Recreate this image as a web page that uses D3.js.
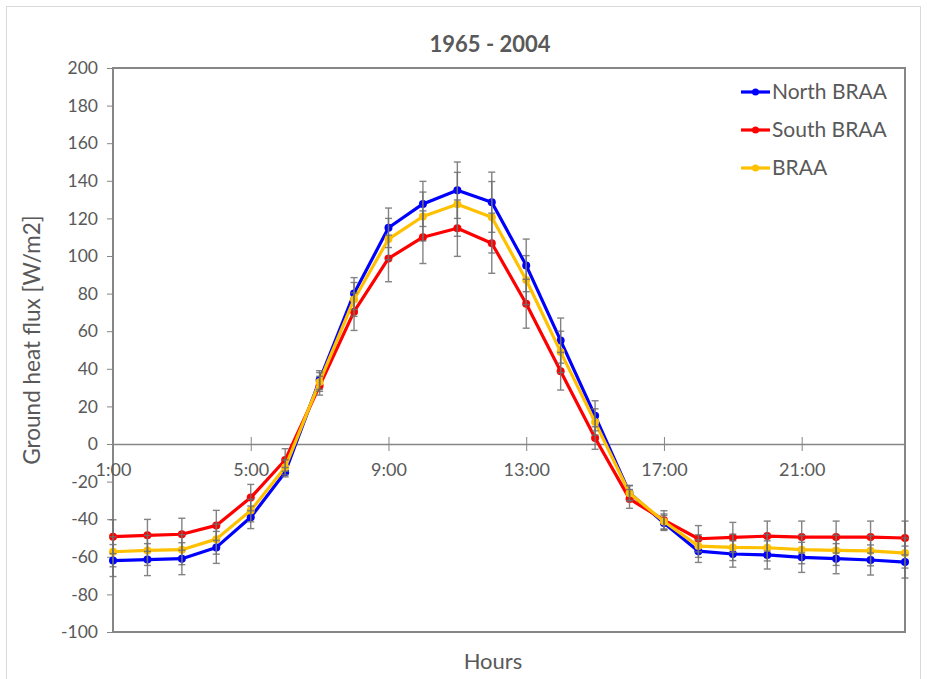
<!DOCTYPE html>
<html>
<head>
<meta charset="utf-8">
<script src="https://cdn.jsdelivr.net/npm/d3@7"></script>
<style>
  html, body { margin: 0; padding: 0; background: #fff; }
  svg { display: block; font-family: Lato, "Open Sans", sans-serif; }
</style>
</head>
<body>
<svg id="chart" width="927" height="679"></svg>
<script>
const hours = ["1:00","2:00","3:00","4:00","5:00","6:00","7:00","8:00","9:00","10:00","11:00","12:00",
               "13:00","14:00","15:00","16:00","17:00","18:00","19:00","20:00","21:00","22:00","23:00","24:00"];
const xTickLabels = ["1:00","5:00","9:00","13:00","17:00","21:00"];
const yTicks = [-100,-80,-60,-40,-20,0,20,40,60,80,100,120,140,160,180,200];

const northValues = [-62,-61.5,-61,-55,-39,-15,34,80,115,127.7,135,128.6,95,55,15,-26,-42,-57,-58.5,-59,-60.3,-61,-61.7,-62.8];
const northErr    = [8.5,8.5,8.5,8.5,6,2.5,5,8.5,10.5,12,15,16,14,12,8,4,4,6,7,7.5,8,8,8,8.5];

const southValues = [-49.3,-48.6,-48,-43.3,-28.5,-8.5,31,70.4,98.7,110,114.8,106.8,74.6,38.7,3.2,-29.2,-40.5,-50.4,-49.7,-49,-49.5,-49.5,-49.5,-50];
const southErr    = [9,8.5,8.5,8,7,6,5,10,12.4,14,15,16,13,10,6,5,5,7,8,8,8.5,8.5,8.5,9];

const braaValues  = [-57.3,-56.6,-56.2,-50.6,-35.4,-12.4,33,76.9,109,121,127.5,120.6,87.2,49,11.7,-26.2,-41.2,-54.3,-55,-55.2,-56.2,-56.6,-56.8,-58];
const braaErr     = [8,8,8,8,6,4,5,9,11,13,17,19,13,11,7,4,4,6,7,7,7.5,8,8,8];

const seriesNames  = ["North BRAA","South BRAA","BRAA"];
const seriesColors = ["#0000FF","#FF0000","#FFC000"];

const series = [
  {name: seriesNames[0], color: seriesColors[0], values: northValues, err: northErr},
  {name: seriesNames[1], color: seriesColors[1], values: southValues, err: southErr},
  {name: seriesNames[2], color: seriesColors[2], values: braaValues,  err: braaErr}
];

const svg = d3.select("#chart");
const plot = {left: 113, right: 905, top: 68, bottom: 632};
const textColor = "#595959";
const axisColor = "#868686";

// outer chart border
svg.append("rect").attr("x", 6.5).attr("y", 6.5).attr("width", 914).attr("height", 680)
  .attr("fill", "#fff").attr("stroke", "#d9d9d9").attr("stroke-width", 1);

const x = d3.scalePoint().domain(hours).range([plot.left, plot.right]);
const y = d3.scaleLinear().domain([-100, 200]).range([plot.bottom, plot.top]);

// plot area box
svg.append("rect").attr("x", plot.left).attr("y", plot.top)
  .attr("width", plot.right - plot.left).attr("height", plot.bottom - plot.top)
  .attr("fill", "none").attr("stroke", axisColor).attr("stroke-width", 2);

// Y axis
const yAxis = d3.axisLeft(y).tickValues(yTicks).tickFormat(d => String(d))
  .tickSize(6).tickPadding(9).tickSizeOuter(0);
const gy = svg.append("g").attr("transform", `translate(${plot.left},0)`).call(yAxis);
gy.select(".domain").remove();
gy.selectAll("line").attr("stroke", axisColor).attr("stroke-width", 1);
gy.selectAll("text").attr("fill", textColor).attr("font-size", 17.5).attr("font-family", "Lato, sans-serif");

// X axis at zero
const xAxis = d3.axisBottom(x).tickValues(xTickLabels).tickSize(7).tickPadding(12).tickSizeOuter(0);
const gx = svg.append("g").attr("transform", `translate(0,${y(0)})`).call(xAxis);
gx.select(".domain").attr("stroke", axisColor).attr("stroke-width", 1.5);
gx.selectAll(".tick line").attr("stroke", axisColor).attr("stroke-width", 1).attr("y1", -7);
gx.selectAll("text").attr("fill", textColor).attr("font-size", 18).attr("font-family", "Lato, sans-serif");

// Lines and markers
const line = d3.line().x((d, i) => x(hours[i])).y(d => y(d));
series.forEach(s => {
  svg.append("path").datum(s.values)
    .attr("fill", "none").attr("stroke", s.color).attr("stroke-width", 3.2)
    .attr("stroke-linejoin", "round").attr("d", line);
  svg.append("g").selectAll("circle").data(s.values).join("circle")
    .attr("cx", (d, i) => x(hours[i])).attr("cy", d => y(d)).attr("r", 4)
    .attr("fill", s.color);
});

// Error bars
series.forEach(s => {
  const g = svg.append("g").attr("stroke", "#6e6e6e").attr("stroke-width", 1.4).attr("opacity", 0.85);
  s.values.forEach((v, i) => {
    const cx = x(hours[i]);
    const y1 = y(v + s.err[i]), y2 = y(v - s.err[i]);
    g.append("line").attr("x1", cx).attr("x2", cx).attr("y1", y1).attr("y2", y2);
    g.append("line").attr("x1", cx - 3.5).attr("x2", cx + 3.5).attr("y1", y1).attr("y2", y1);
    g.append("line").attr("x1", cx - 3.5).attr("x2", cx + 3.5).attr("y1", y2).attr("y2", y2);
  });
});

// Title
svg.append("text").attr("x", 490).attr("y", 52).attr("text-anchor", "middle")
  .attr("font-size", 22).attr("font-weight", "bold").attr("fill", textColor).text("1965 - 2004");

// Axis titles
svg.append("text").attr("transform", `translate(40,340) rotate(-90)`).attr("text-anchor", "middle")
  .attr("font-size", 22.5).attr("fill", textColor).text("Ground heat flux [W/m2]");
svg.append("text").attr("x", 493).attr("y", 669).attr("text-anchor", "middle")
  .attr("font-size", 22).attr("fill", textColor).text("Hours");

// Legend
const legend = svg.append("g");
series.forEach((s, i) => {
  const ly = 92 + i * 38;
  legend.append("line").attr("x1", 741).attr("x2", 770).attr("y1", ly).attr("y2", ly)
    .attr("stroke", s.color).attr("stroke-width", 3.2);
  legend.append("circle").attr("cx", 755.5).attr("cy", ly).attr("r", 3.5).attr("fill", s.color);
  legend.append("text").attr("x", 772).attr("y", ly + 7).attr("font-size", 21)
    .attr("fill", textColor).text(s.name);
});
</script>
</body>
</html>
